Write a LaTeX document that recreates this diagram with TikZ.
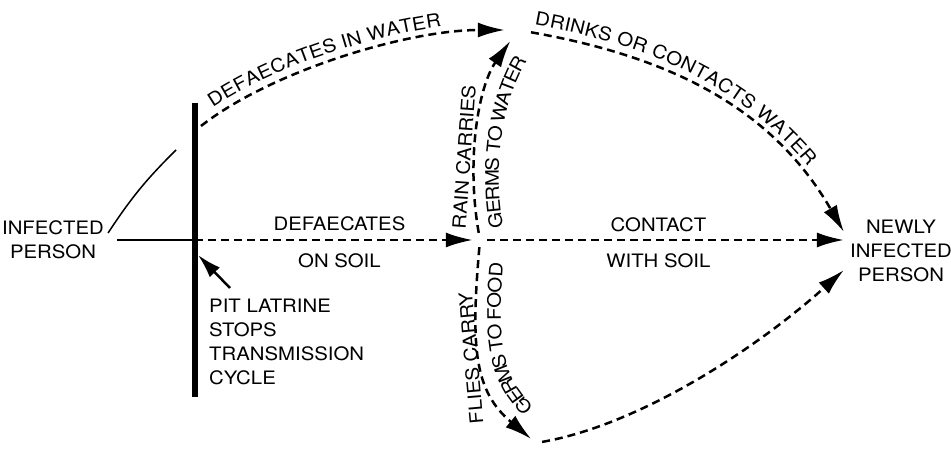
\documentclass[tikz,border=0pt]{standalone}
\usepackage{fontspec}
\setmainfont[FakeStretch=1.1]{TeX Gyre Heros}
\usetikzlibrary{arrows.meta,positioning,decorations.text}
\newcommand{\diagfont}{\fontsize{18.5}{24}\selectfont}
\tikzstyle{person}=[
	align=center,
	font=\diagfont,
	inner sep=6pt]
\tikzstyle{note}=[
	align=left,
	font=\diagfont,
	inner sep=0pt]
\tikzstyle{tag}=[
	font=\diagfont,
	inner sep=0pt]
\tikzstyle{junction}=[
	circle,
	inner sep=0pt]
\tikzstyle{route}=[
	line width=2.5pt,
	dash pattern=on 8pt off 5pt,
	-{Latex[length=27pt,width=15pt]}]
\tikzstyle{pointer}=[
	line width=2.5pt,
	-{Latex[length=24pt,width=14pt]}]

\begin{document}
\begin{tikzpicture}[x=1pt,y=1pt,execute at begin picture={\diagfont}]
	\useasboundingbox (0,0) rectangle (951,449);
	\node[person]	(infected)	at (53,209)	{INFECTED\\PERSON};
	\node[person]	(newly)	at (901,198)	{NEWLY\\INFECTED\\PERSON};
	\coordinate	(pit)	at (195,209);
	\coordinate	(pittop)	at (195,346);
	\coordinate	(pitbot)	at (195,52);
	\coordinate	(leader)	at (176,299);
	\coordinate	(wstart)	at (201,323);
	\node[junction,minimum size=26pt]	(water)	at (518,419)	{};
	\node[junction,minimum size=14pt]	(soil)	at (480,209)	{};
	\node[junction,minimum size=12pt]	(food)	at (536,6)	{};
	\node[note]	(stops)	[below right=59pt and 14pt of pit]	{PIT LATRINE\\STOPS\\TRANSMISSION\\CYCLE};
	\node[tag,rotate=86]	(rain)	at (464,292)	{RAIN CARRIES};
	\node[tag,rotate=95]	(flies)	at (471,91)	{FLIES CARRY};
	\draw[line width=6pt] (pittop) -- (pitbot);
	\draw[line width=2pt,shorten <=7pt] (infected.east) -- (pit);
	\draw[line width=1.5pt] ([shift={(-2pt,7pt)}]infected.east) to[bend left=6] (leader);
	\draw[pointer] ([shift={(21pt,11pt)}]stops.north west) -- ([shift={(3pt,-15pt)}]pit);
	\draw[route] (pit) -- node[tag,above=8pt,pos=.52]{DEFAECATES} node[tag,below=12pt,pos=.52]{ON SOIL} (soil);
	\draw[route] (soil) -- node[tag,above=7pt,pos=.48]{CONTACT} node[tag,below=12pt,pos=.48]{WITH SOIL} (soil -| newly.west);
	\draw[route,postaction={decorate,decoration={text along path,raise=8pt,text align={left indent=20pt},text={DEFAECATES IN WATER}}}]
		(wstart) .. controls +(38:90) and +(180:110) .. (water);
	\draw[route,postaction={decorate,decoration={text along path,raise=8pt,text align={left indent=2pt},text={DRINKS OR CONTACTS WATER}}}]
		(water) .. controls +(-10:148) and +(120:148) .. ([yshift=19pt]newly.west);
	\draw[route,postaction={decorate,decoration={text along path,raise=-25pt,text align={left indent=2pt},text={GERMS TO WATER}}}]
		(soil) .. controls +(100:80) and +(-125:70) .. (water);
	\draw[route] (soil) .. controls +(-95:110) and +(140:80) .. (food);
	\path[postaction={decorate,decoration={text along path,raise=-25pt,text align={left indent=22pt},text={GERMS TO FOOD}}}]
		(food) .. controls +(140:80) and +(-95:110) .. (soil);
	\draw[route] (food) .. controls +(10:110) and +(-138:110) .. ([yshift=-19pt]newly.west);
\end{tikzpicture}
\end{document}
